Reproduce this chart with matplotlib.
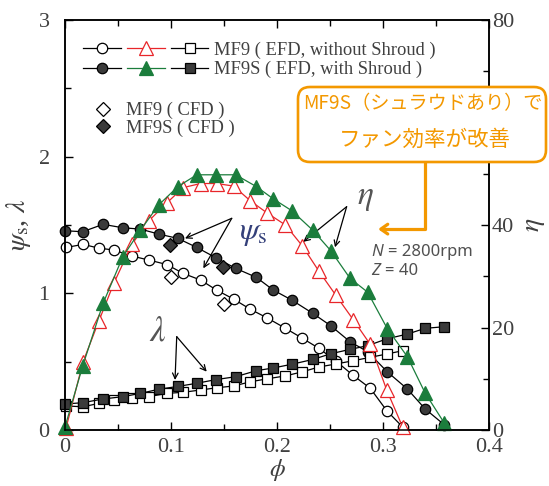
import matplotlib
matplotlib.use('Agg')
import matplotlib.pyplot as plt
from matplotlib.legend_handler import HandlerTuple
from matplotlib.patches import FancyBboxPatch
from matplotlib.ticker import MultipleLocator, FuncFormatter

plt.rcParams['font.family'] = ['Liberation Serif', 'DejaVu Serif']
plt.rcParams['mathtext.fontset'] = 'stix'

# MF9 (without shroud), EFD
phi_mf9 = [0.001, 0.017, 0.032, 0.046, 0.063, 0.079, 0.096, 0.1115, 0.128, 0.143, 0.159,
           0.175, 0.191, 0.208, 0.224, 0.2395, 0.2555, 0.272, 0.288, 0.3035, 0.3185]
psi_mf9 = [1.336, 1.358, 1.331, 1.317, 1.273, 1.244, 1.211, 1.146, 1.097, 1.024, 0.958,
           0.883, 0.819, 0.744, 0.671, 0.598, 0.505, 0.399, 0.305, 0.142, 0.022]
eta_mf9 = [0.4, 13.3, 21.3, 28.6, 36.2, 40.8, 44.3, 47.3, 48.1, 48.1, 47.6,
           44.7, 42.3, 40.0, 35.9, 31.0, 26.3, 21.5, 16.7, 7.8, 0.6]
lam_mf9 = [0.176, 0.170, 0.195, 0.219, 0.232, 0.244, 0.268, 0.276, 0.293, 0.309, 0.322,
           0.353, 0.375, 0.396, 0.426, 0.461, 0.483, 0.507, 0.532, 0.556, 0.580]

# MF9S (with shroud), EFD
phi_mf9s = [0.0, 0.0167, 0.0359, 0.0545, 0.0712, 0.0883, 0.1065, 0.1243, 0.1425, 0.161, 0.1805,
            0.1965, 0.2139, 0.2337, 0.2507, 0.2689, 0.2855, 0.304, 0.323, 0.3398, 0.358]
psi_mf9s = [1.458, 1.451, 1.505, 1.480, 1.470, 1.434, 1.402, 1.336, 1.260, 1.183, 1.117,
            1.024, 0.951, 0.854, 0.763, 0.646, 0.573, 0.426, 0.300, 0.154, 0.037]
eta_mf9s = [0.6, 12.5, 24.7, 33.8, 39.0, 43.9, 47.5, 49.8, 49.8, 49.8, 47.5,
            45.1, 42.8, 39.0, 35.0, 29.6, 26.9, 19.8, 14.3, 7.2, 1.3]
lam_mf9s = [0.190, 0.200, 0.227, 0.244, 0.268, 0.298, 0.319, 0.342, 0.369, 0.390, 0.434,
            0.454, 0.481, 0.516, 0.558, 0.590, 0.617, 0.668, 0.702, 0.744, 0.756]

# CFD points
phi_cfd_mf9 = [0.100, 0.150]
psi_cfd_mf9 = [1.123, 0.922]
phi_cfd_mf9s = [0.099, 0.149]
psi_cfd_mf9s = [1.355, 1.190]

txt = '#404040'
dark = '#3a3a3a'
red = '#e8262a'
green = '#1b7d3c'
orange = '#f39800'

fig = plt.figure(figsize=(5.49, 4.86), dpi=100)
ax = fig.add_axes([0.1184, 0.1152, 0.7723, 0.8436])
ax2 = ax.twinx()

kw = dict(lw=0.9, mew=0.9, clip_on=False)
l_o, = ax.plot(phi_mf9, psi_mf9, color='k', marker='o', ms=7.5, mfc='white', mec='k', **kw)
l_f, = ax.plot(phi_mf9s, psi_mf9s, color='k', marker='o', ms=7.5, mfc=dark, mec='k', **kw)
l_os, = ax.plot(phi_mf9, lam_mf9, color='k', marker='s', ms=7.5, mfc='white', mec='k', **kw)
l_fs, = ax.plot(phi_mf9s, lam_mf9s, color='k', marker='s', ms=7.5, mfc=dark, mec='k', **kw)
d_o, = ax.plot(phi_cfd_mf9, psi_cfd_mf9, ls='none', marker='D', ms=7.5, mfc='white', mec='k', mew=0.9)
d_f, = ax.plot(phi_cfd_mf9s, psi_cfd_mf9s, ls='none', marker='D', ms=7.5, mfc=dark, mec='k', mew=0.9)

l_rt, = ax2.plot(phi_mf9, eta_mf9, color=red, marker='^', ms=9.5, mfc='white', mec=red, **kw)
l_gt, = ax2.plot(phi_mf9s, eta_mf9s, color=green, marker='^', ms=10, mfc=green, mec=green, **kw)

ax.set_xlim(0, 0.4)
ax.set_ylim(0, 3)
ax2.set_ylim(0, 80)

ax.xaxis.set_major_locator(MultipleLocator(0.1))
ax.xaxis.set_minor_locator(MultipleLocator(0.05))
ax.yaxis.set_major_locator(MultipleLocator(1))
ax.yaxis.set_minor_locator(MultipleLocator(0.5))
ax2.yaxis.set_major_locator(MultipleLocator(20))
ax2.yaxis.set_minor_locator(MultipleLocator(10))
ax.xaxis.set_major_formatter(FuncFormatter(lambda v, _: f'{v:g}'))

ax.tick_params(which='both', direction='in', top=True, right=False, width=1, labelsize=16, labelcolor=txt)
ax.tick_params(which='major', length=6)
ax.tick_params(which='minor', length=4)
ax.tick_params(axis='y', pad=11)
ax.tick_params(axis='x', pad=6)
ax2.tick_params(which='both', direction='in', width=1, labelsize=16, labelcolor=txt, pad=2)
ax2.tick_params(which='major', length=6)
ax2.tick_params(which='minor', length=4)
for a in (ax, ax2):
    for s in a.spines.values():
        s.set_linewidth(1.1)

ax.set_xlabel(r'$\phi$', fontsize=18, color=txt, labelpad=0)
ax.set_ylabel(r'$\psi_{\rm s}$, $\lambda$', fontsize=20, color=txt, labelpad=4)
ax2.set_ylabel(r'$\eta$', fontsize=20, color=txt, labelpad=6)

# legends
leg1 = ax.legend([(l_o, l_rt, l_os), (l_f, l_gt, l_fs)],
                 ['MF9 ( EFD, without Shroud )', 'MF9S ( EFD, with Shroud )'],
                 handler_map={tuple: HandlerTuple(ndivide=None, pad=0.33)},
                 loc='upper left', bbox_to_anchor=(0.042, 0.948), borderaxespad=0, borderpad=0,
                 frameon=False, fontsize=13.3, labelcolor=txt, handlelength=6.8,
                 handletextpad=0.3, labelspacing=0.12)
ax.add_artist(leg1)
ax.legend([d_o, d_f], ['MF9 ( CFD )', 'MF9S ( CFD )'], loc='upper left',
          bbox_to_anchor=(0.066, 0.80), borderaxespad=0, borderpad=0, frameon=False,
          fontsize=13.3, labelcolor=txt, handlelength=1.1, handletextpad=0.7,
          labelspacing=0.0)

# curve labels with arrows
arr = dict(arrowstyle='->', color='k', lw=0.9, shrinkA=0, shrinkB=0)
for tip in [(0.1132, 1.402), (0.1305, 1.183)]:
    ax.annotate('', xy=tip, xytext=(0.1573, 1.549), arrowprops=arr)
ax.text(0.1775, 1.44, r'$\psi_{\rm s}$', fontsize=23, color='#34407a', ha='center', va='center')

for tip in [(0.1038, 0.366), (0.1337, 0.427)]:
    ax.annotate('', xy=tip, xytext=(0.1054, 0.683), arrowprops=arr)
ax.text(0.0873, 0.717, r'$\lambda$', fontsize=25, color='#555555', ha='center', va='center')

for tip in [(0.2248, 1.377), (0.2547, 1.337)]:
    ax.annotate('', xy=tip, xytext=(0.2657, 1.634), arrowprops=arr)
ax.text(0.283, 1.70, r'$\eta$', fontsize=24, color='#555555', ha='center', va='center')

# operating condition
tn = ax.text(0.2893, 1.244, 'N', fontsize=12, style='italic', color='#505050',
             family='Noto Sans', va='bottom')
ax.annotate('= 2800rpm', xy=(1, 0), xycoords=tn, xytext=(3, 0), textcoords='offset points',
            fontsize=12, color='#505050', family='Noto Sans', va='bottom')
tz = ax.text(0.2893, 1.105, 'Z', fontsize=12, style='italic', color='#505050',
             family='Noto Sans', va='bottom')
ax.annotate('= 40', xy=(1, 0), xycoords=tz, xytext=(3, 0), textcoords='offset points',
            fontsize=12, color='#505050', family='Noto Sans', va='bottom')

# callout
box = FancyBboxPatch((2.98, 3.24), 2.48, 0.75, boxstyle='round,pad=0,rounding_size=0.12',
                     transform=fig.dpi_scale_trans, fc='white', ec=orange, lw=1.9)
fig.add_artist(box)
fig.text(4.23, 3.82, 'MF9S（シュラウドあり）で', transform=fig.dpi_scale_trans,
         fontsize=13.8, color=orange, family=['Noto Sans CJK JP'], ha='center', va='center')
fig.text(4.25, 3.46, 'ファン効率が改善', transform=fig.dpi_scale_trans,
         fontsize=15.5, color=orange, family=['Noto Sans CJK JP'], ha='center', va='center')
ax.annotate('', xy=(0.2953, 1.470), xytext=(0.3396, 1.96),
            arrowprops=dict(arrowstyle='->,head_length=0.5,head_width=0.35', color=orange, lw=2.3,
                            connectionstyle='angle,angleA=90,angleB=0,rad=0',
                            shrinkA=0, shrinkB=0), annotation_clip=False)

fig.savefig('out.png', dpi=100)
